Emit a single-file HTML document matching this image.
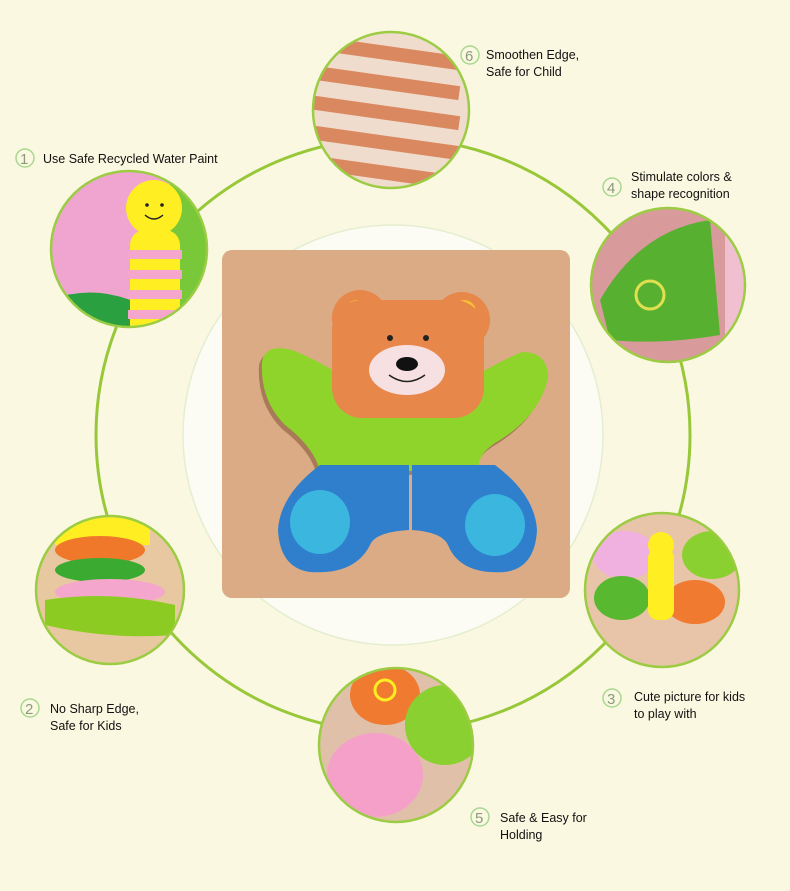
<!DOCTYPE html>
<html><head><style>
html,body{margin:0;padding:0;background:#fbf8e1;}
svg{display:block}
text{font-family:"Liberation Sans",sans-serif;font-size:12.5px;fill:#111}
.n{font-size:15px;fill:#8a9a7a}
.nc{fill:none;stroke:#a8d890;stroke-width:1.5}
</style></head><body>
<svg width="790" height="891" viewBox="0 0 790 891" xmlns="http://www.w3.org/2000/svg">
<defs>
<clipPath id="c1"><circle cx="129" cy="249" r="78"/></clipPath>
<clipPath id="c6"><circle cx="391" cy="110" r="78"/></clipPath>
<clipPath id="c4"><circle cx="668" cy="285" r="77"/></clipPath>
<clipPath id="c2"><circle cx="110" cy="590" r="74"/></clipPath>
<clipPath id="c3"><circle cx="662" cy="590" r="77"/></clipPath>
<clipPath id="c5"><circle cx="396" cy="745" r="77"/></clipPath>
</defs>
<rect width="790" height="891" fill="#fbf8e1"/>
<circle cx="393" cy="435" r="210" fill="#fdfcf4" stroke="#e4eed0" stroke-width="1.5"/>
<circle cx="393" cy="435" r="297" fill="none" stroke="#98c83a" stroke-width="3"/>

<!-- board -->
<rect x="222" y="250" width="348" height="348" rx="10" fill="#dbab86"/>
<path d="M262,362 Q265,343 292,350 Q330,365 370,395 L445,395 Q490,365 522,352 Q548,352 548,378 Q540,415 500,440 Q478,452 478,470 L320,472 Q315,448 285,425 Q260,400 262,362Z" fill="#a87a58" transform="translate(-3,4)"/>
<path d="M262,362 Q265,343 292,350 Q330,365 370,395 L445,395 Q490,365 522,352 Q548,352 548,378 Q540,415 500,440 Q478,452 478,470 L320,472 Q315,448 285,425 Q260,400 262,362Z" fill="#8fd42a"/>
<path d="M320,465 L409,465 L409,530 Q375,532 370,545 Q355,575 310,572 Q280,568 278,530 Q280,495 320,465 Z" fill="#2f7fcc"/>
<path d="M412,465 L495,465 Q535,495 537,530 Q535,568 505,572 Q460,575 448,545 Q442,532 412,530 Z" fill="#2f7fcc"/>
<ellipse cx="320" cy="522" rx="30" ry="32" fill="#3bb6de"/>
<ellipse cx="495" cy="525" rx="30" ry="31" fill="#3bb6de"/>
<circle cx="360" cy="318" r="28" fill="#e8874a"/>
<circle cx="462" cy="320" r="28" fill="#e8874a"/>
<circle cx="357" cy="312" r="12" fill="#f5c235"/>
<circle cx="464" cy="312" r="12" fill="#f5c235"/>
<rect x="332" y="300" width="152" height="118" rx="30" fill="#e8874a"/>
<ellipse cx="407" cy="370" rx="38" ry="25" fill="#f6e0e2"/>
<circle cx="390" cy="338" r="3" fill="#222"/><circle cx="426" cy="338" r="3" fill="#222"/>
<ellipse cx="407" cy="364" rx="11" ry="7" fill="#111"/>
<path d="M389,375 Q407,388 425,375" fill="none" stroke="#222" stroke-width="1.5"/>

<!-- circle 6 top: wood edges -->
<g clip-path="url(#c6)">
<rect x="300" y="30" width="180" height="170" fill="#f0dccc"/>
<g fill="#d98860">
<rect x="300" y="45" width="160" height="14" transform="rotate(8 380 52)"/>
<rect x="300" y="75" width="160" height="14" transform="rotate(8 380 82)"/>
<rect x="300" y="105" width="160" height="14" transform="rotate(8 380 112)"/>
<rect x="300" y="135" width="160" height="14" transform="rotate(8 380 142)"/>
<rect x="300" y="165" width="160" height="14" transform="rotate(8 380 172)"/>
</g>
</g>
<circle cx="391" cy="110" r="78" fill="none" stroke="#9ccc44" stroke-width="2.5"/>

<!-- circle 1 -->
<g clip-path="url(#c1)">
<rect x="45" y="165" width="170" height="170" fill="#f0a4d0"/>
<rect x="170" y="170" width="50" height="160" fill="#78c83a"/>
<path d="M50,300 Q90,285 130,300 L130,335 L50,335Z" fill="#2aa040"/>
<circle cx="154" cy="208" r="28" fill="#ffee22"/>
<rect x="130" y="230" width="50" height="110" rx="15" fill="#ffee22"/>
<g fill="#f4a6cc"><rect x="128" y="250" width="54" height="9"/><rect x="128" y="270" width="54" height="9"/><rect x="128" y="290" width="54" height="9"/><rect x="128" y="310" width="54" height="9"/></g>
<circle cx="147" cy="205" r="1.8" fill="#222"/><circle cx="162" cy="205" r="1.8" fill="#222"/>
<path d="M145,215 Q154,223 163,215" fill="none" stroke="#222" stroke-width="1.5"/>
</g>
<circle cx="129" cy="249" r="78" fill="none" stroke="#9ccc44" stroke-width="2.5"/>

<!-- circle 4 -->
<g clip-path="url(#c4)">
<rect x="585" y="200" width="170" height="170" fill="#d89a9a"/>
<path d="M600,300 Q640,230 710,220 L720,335 Q660,345 610,340Z" fill="#58b030"/>
<circle cx="650" cy="295" r="14" fill="none" stroke="#e0e050" stroke-width="3"/>
<rect x="725" y="215" width="30" height="140" fill="#f0c0d0"/>
</g>
<circle cx="668" cy="285" r="77" fill="none" stroke="#9ccc44" stroke-width="2.5"/>

<!-- circle 2 -->
<g clip-path="url(#c2)">
<rect x="30" y="510" width="165" height="160" fill="#e8c8a0"/>
<path d="M55,515 Q110,505 150,520 L150,545 L55,545Z" fill="#ffee22"/>
<ellipse cx="100" cy="550" rx="45" ry="14" fill="#f0782a"/>
<ellipse cx="100" cy="570" rx="45" ry="12" fill="#3aaa30"/>
<ellipse cx="110" cy="592" rx="55" ry="13" fill="#f4a6cc"/>
<path d="M45,600 Q110,590 175,605 L175,635 Q110,640 45,625Z" fill="#8ccc22"/>
</g>
<circle cx="110" cy="590" r="74" fill="none" stroke="#9ccc44" stroke-width="2.5"/>

<!-- circle 3 -->
<g clip-path="url(#c3)">
<rect x="580" y="510" width="170" height="165" fill="#e8c4a8"/>
<ellipse cx="625" cy="555" rx="32" ry="24" fill="#f0b0e0"/>
<ellipse cx="712" cy="555" rx="30" ry="24" fill="#8ad030"/>
<ellipse cx="622" cy="598" rx="28" ry="22" fill="#58b830"/>
<ellipse cx="695" cy="602" rx="30" ry="22" fill="#f07a30"/>
<rect x="648" y="548" width="26" height="72" rx="10" fill="#ffee22"/>
<circle cx="661" cy="545" r="13" fill="#ffee22"/>
</g>
<circle cx="662" cy="590" r="77" fill="none" stroke="#9ccc44" stroke-width="2.5"/>

<!-- circle 5 -->
<g clip-path="url(#c5)">
<rect x="315" y="665" width="165" height="165" fill="#e0c0a8"/>
<ellipse cx="385" cy="695" rx="35" ry="30" fill="#f07a30"/>
<ellipse cx="445" cy="725" rx="40" ry="40" fill="#8ad030"/>
<ellipse cx="375" cy="775" rx="48" ry="42" fill="#f4a0c8"/>
<circle cx="385" cy="690" r="10" fill="none" stroke="#ffee22" stroke-width="3"/>
</g>
<circle cx="396" cy="745" r="77" fill="none" stroke="#9ccc44" stroke-width="2.5"/>

<!-- labels -->
<circle class="nc" cx="25" cy="158" r="9"/><text class="n" x="20" y="164">1</text>
<text x="43" y="163">Use Safe Recycled Water Paint</text>
<circle class="nc" cx="470" cy="55" r="9"/><text class="n" x="465" y="61">6</text>
<text x="486" y="59">Smoothen Edge,</text><text x="486" y="76">Safe for Child</text>
<circle class="nc" cx="612" cy="187" r="9"/><text class="n" x="607" y="193">4</text>
<text x="631" y="181">Stimulate colors &amp;</text><text x="631" y="198">shape recognition</text>
<circle class="nc" cx="30" cy="708" r="9"/><text class="n" x="25" y="714">2</text>
<text x="50" y="713">No Sharp Edge,</text><text x="50" y="730">Safe for Kids</text>
<circle class="nc" cx="612" cy="698" r="9"/><text class="n" x="607" y="704">3</text>
<text x="634" y="701">Cute picture for kids</text><text x="634" y="718">to play with</text>
<circle class="nc" cx="480" cy="817" r="9"/><text class="n" x="475" y="823">5</text>
<text x="500" y="822">Safe &amp; Easy for</text><text x="500" y="839">Holding</text>
</svg>
</body></html>
